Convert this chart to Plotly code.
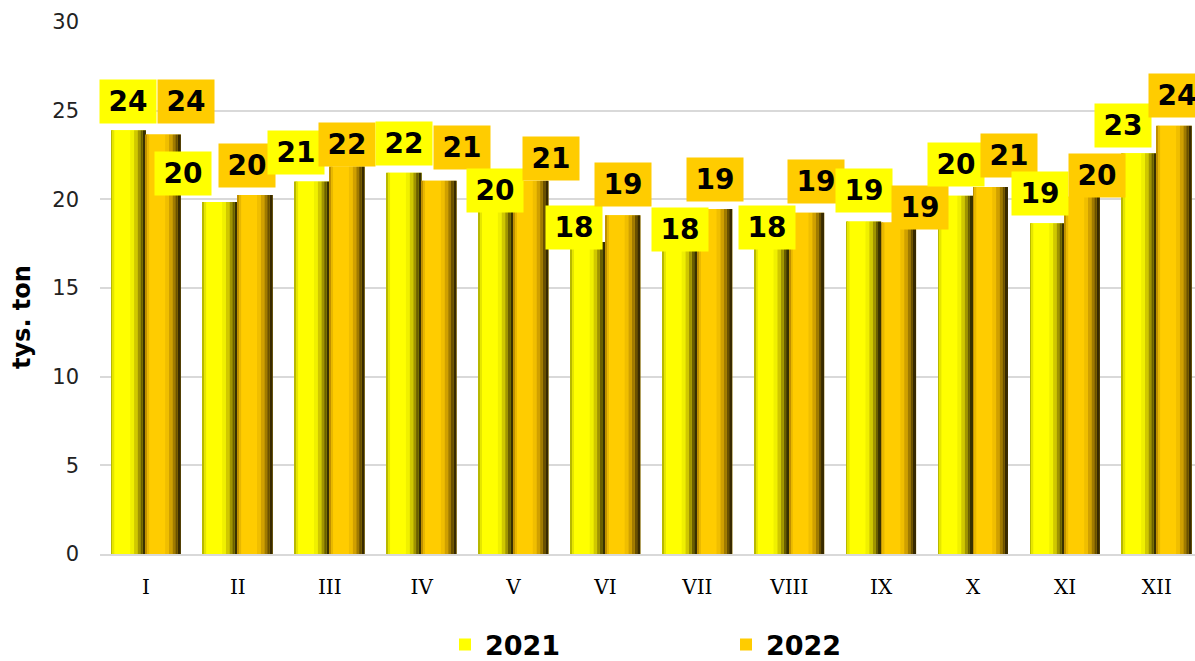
import plotly.graph_objects as go

months = ["I", "II", "III", "IV", "V", "VI", "VII", "VIII", "IX", "X", "XI", "XII"]
v2021 = [23.9, 19.85, 21.0, 21.5, 19.9, 17.6, 17.8, 17.9, 18.75, 20.2, 18.65, 22.6]
v2022 = [23.65, 20.25, 21.85, 21.05, 21.05, 19.1, 19.45, 19.25, 18.7, 20.7, 20.15, 24.15]
y_ticks = [0, 5, 10, 15, 20, 25, 30]

# label placement tweaks (pixels), mimicking the original chart's label layout
dx2021 = [0, -37, -16, 0, -1, -14, 0, -5, 0, 0, -8, -16]
gap2021 = [6, 6, 7, 7, -12, -8, -14, -13, 9, 9, 7, 5]
dx2022 = [23, -8, 0, 23, 20, 0, 0, 9, 21, 18, 15, 3]
gap2022 = [11, 7, 0, 11, 0, 8, 7, 9, -8, 9, -1, 8]

BW = 0.38
series = [
    ("2021", v2021, -BW, "#FFFF00",
     [(0.0, 0.05, "#b8b800"), (0.05, 0.10, "#e6e600"), (0.10, 0.55, "#FFFF00"), (0.55, 0.66, "#f0f000"),
      (0.66, 0.76, "#d0c800"), (0.76, 0.84, "#a09400"), (0.84, 0.91, "#6a5e00"), (0.91, 1.0, "#383000")]),
    ("2022", v2022, 0.0, "#FFCC00",
     [(0.0, 0.05, "#c09000"), (0.05, 0.10, "#e8b800"), (0.10, 0.55, "#FFCC00"), (0.55, 0.66, "#f0be00"),
      (0.66, 0.76, "#d0a000"), (0.76, 0.84, "#a07a00"), (0.84, 0.91, "#6a5000"), (0.91, 1.0, "#382a00")]),
]

fig = go.Figure()
for name, vals, off, base, strips in series:
    fig.add_trace(go.Bar(x=months, y=vals, name=f"<b>{name}</b>", width=BW, offset=off,
                         marker=dict(color=base, line=dict(width=0)), hoverinfo="skip"))
    for s0, s1, col in strips:
        fig.add_trace(go.Bar(x=months, y=vals, width=BW * (s1 - s0), offset=off + BW * s0,
                             marker=dict(color=col, line=dict(width=0)), showlegend=False,
                             hoverinfo="skip"))

annotations = []
for i, m in enumerate(months):
    for vals, dxs, gaps, coff, bg in [(v2021, dx2021, gap2021, -BW / 2, "#FFFF00"),
                                      (v2022, dx2022, gap2022, BW / 2, "#FFCC00")]:
        annotations.append(dict(
            x=i + coff, y=vals[i], xref="x", yref="y", text=f"<b>{round(vals[i])}</b>",
            showarrow=False, xanchor="center", yanchor="bottom",
            xshift=dxs[i], yshift=gaps[i], width=56, height=43, borderpad=0,
            bgcolor=bg, font=dict(family="DejaVu Sans", size=28, color="#000"),
            align="center", valign="middle"))

annotations.append(dict(
    x=(22 - 100) / 1095, y=(554 - 317) / 532, xref="paper", yref="paper",
    text="<b>tys. ton</b>", textangle=-90, showarrow=False,
    xanchor="center", yanchor="middle",
    font=dict(family="DejaVu Sans", size=24, color="#000")))

fig.update_layout(
    width=1195, height=661,
    margin=dict(l=100, r=0, t=22, b=107, autoexpand=False),
    paper_bgcolor="white", plot_bgcolor="white",
    barmode="overlay",
    showlegend=True,
    legend=dict(orientation="h", x=(445 - 100) / 1095, xanchor="left",
                y=(554 - 645) / 532, yanchor="middle",
                entrywidth=236, entrywidthmode="pixels",
                font=dict(family="DejaVu Sans", size=27, color="#000"),
                itemsizing="constant", traceorder="normal"),
    annotations=annotations,
    xaxis=dict(type="category", range=[-0.5, 11.415], showgrid=False, automargin=False,
               showline=True, linecolor="#d9d9d9", linewidth=2,
               ticks="", ticklabelstandoff=14,
               tickfont=dict(family="DejaVu Serif", size=20, color="#000")),
    yaxis=dict(range=[0, 30], tickvals=y_ticks, showgrid=True, automargin=False,
               gridcolor="#d9d9d9", gridwidth=2, zeroline=False,
               showline=False, ticks="", ticklabelstandoff=20,
               tickfont=dict(family="DejaVu Sans", size=21, color="#222")),
    font=dict(family="DejaVu Sans"),
)

fig.write_html("out.html", config={"displayModeBar": False},
               post_script="document.body.style.margin='0';document.body.style.overflow='hidden';")
